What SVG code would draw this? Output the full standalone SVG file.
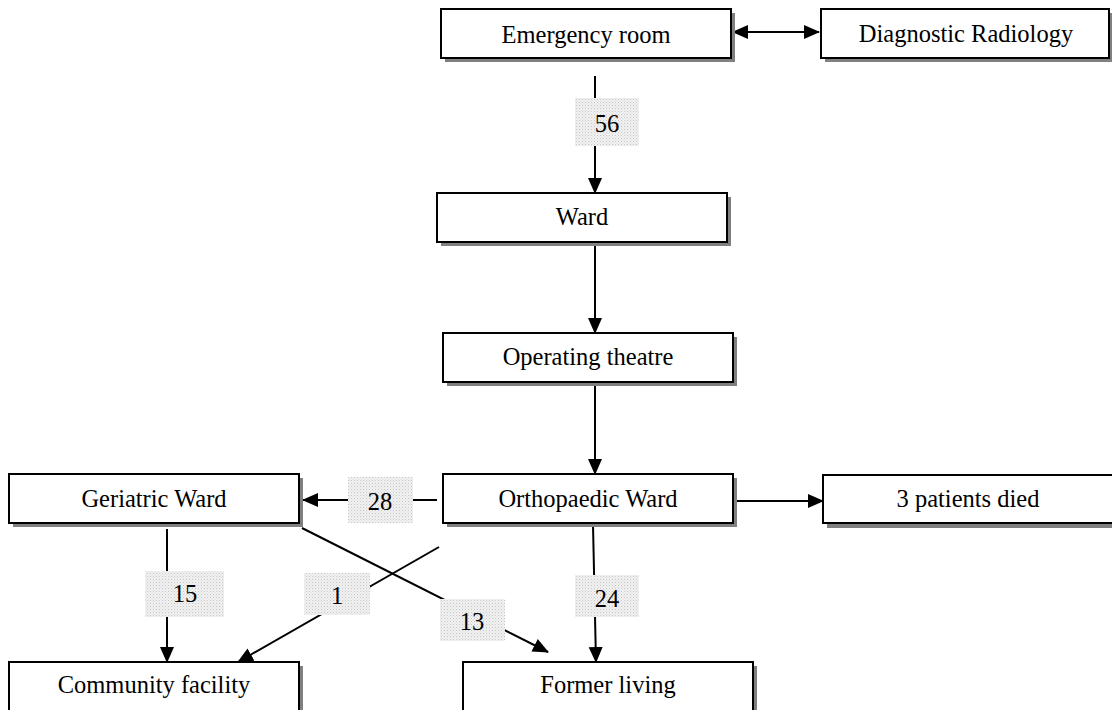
<svg xmlns="http://www.w3.org/2000/svg" width="1112" height="710" viewBox="0 0 1112 710">
<defs>
<style>
.box{fill:#fff;stroke:#000;stroke-width:2}
.sh{fill:#808080}
.t{font-family:"Liberation Serif","Times New Roman",serif;font-size:24.5px;fill:#000;text-anchor:middle}
.ln{stroke:#000;stroke-width:2;fill:none}
.lab{fill:url(#dots)}
</style>
<pattern id="dots" width="3" height="3" patternUnits="userSpaceOnUse">
<rect width="3" height="3" fill="#f2f2f2"/>
<rect width="1" height="1" fill="#c4c4c4"/>
<rect x="1.5" y="1.5" width="1" height="1" fill="#d4d4d4"/>
</pattern>
<marker id="ah" markerUnits="userSpaceOnUse" markerWidth="16" markerHeight="16" viewBox="0 0 16 16" refX="15" refY="8" orient="auto">
<path d="M0,1 L16,8 L0,15 Z" fill="#000"/>
</marker>
<marker id="as" markerUnits="userSpaceOnUse" markerWidth="16" markerHeight="16" viewBox="0 0 16 16" refX="1" refY="8" orient="auto">
<path d="M16,1 L0,8 L16,15 Z" fill="#000"/>
</marker>
</defs>
<rect width="1112" height="710" fill="#fff"/>

<g id="connectors">
<line class="ln" x1="595" y1="76" x2="595" y2="193" marker-end="url(#ah)"/>
<line class="ln" x1="733" y1="32" x2="819" y2="32" marker-start="url(#as)" marker-end="url(#ah)"/>
<line class="ln" x1="595" y1="244" x2="595" y2="333" marker-end="url(#ah)"/>
<line class="ln" x1="595" y1="384" x2="595" y2="474" marker-end="url(#ah)"/>
<line class="ln" x1="437" y1="500" x2="303" y2="500" marker-end="url(#ah)"/>
<line class="ln" x1="737" y1="501" x2="823" y2="501" marker-end="url(#ah)"/>
<line class="ln" x1="167" y1="529" x2="167" y2="662" marker-end="url(#ah)"/>
<line class="ln" x1="439" y1="547" x2="238" y2="662" marker-end="url(#ah)"/>
<line class="ln" x1="302" y1="528" x2="548" y2="652" marker-end="url(#ah)"/>
<line class="ln" x1="593" y1="525" x2="596" y2="662" marker-end="url(#ah)"/>
</g>

<g id="labels">
<g id="lab56"><rect class="lab" x="575" y="98" width="64" height="48"/><text class="t" x="607" y="132">56</text></g>
<g id="lab28"><rect class="lab" x="348" y="477" width="65" height="46"/><text class="t" x="380" y="510">28</text></g>
<g id="lab15"><rect class="lab" x="145" y="571" width="79" height="46"/><text class="t" x="185" y="602">15</text></g>
<g id="lab1"><rect class="lab" x="304" y="573" width="66" height="42"/><text class="t" x="337" y="604">1</text></g>
<g id="lab13"><rect class="lab" x="440" y="599" width="65" height="42"/><text class="t" x="472" y="630">13</text></g>
<g id="lab24"><rect class="lab" x="575" y="575" width="64" height="42"/><text class="t" x="607" y="607">24</text></g>
</g>

<g id="emergency">
<rect class="sh" x="445" y="13" width="290" height="49"/>
<rect class="box" x="441" y="9" width="290" height="49"/>
<text class="t" x="586" y="43">Emergency room</text>
</g>
<g id="radiology">
<rect class="sh" x="825" y="13" width="288" height="49"/>
<rect class="box" x="821" y="9" width="288" height="49"/>
<text class="t" x="966" y="42">Diagnostic Radiology</text>
</g>
<g id="ward">
<rect class="sh" x="441" y="197" width="290" height="49"/>
<rect class="box" x="437" y="193" width="290" height="49"/>
<text class="t" x="582" y="225">Ward</text>
</g>
<g id="operating">
<rect class="sh" x="447" y="337" width="290" height="49"/>
<rect class="box" x="443" y="333" width="290" height="49"/>
<text class="t" x="588" y="365">Operating theatre</text>
</g>
<g id="orthopaedic">
<rect class="sh" x="447" y="478" width="290" height="49"/>
<rect class="box" x="443" y="474" width="290" height="49"/>
<text class="t" x="588" y="507">Orthopaedic Ward</text>
</g>
<g id="geriatric">
<rect class="sh" x="13" y="478" width="290" height="49"/>
<rect class="box" x="9" y="474" width="290" height="49"/>
<text class="t" x="154" y="507">Geriatric Ward</text>
</g>
<g id="died">
<rect class="sh" x="827" y="479" width="290" height="49"/>
<rect class="box" x="823" y="475" width="290" height="48"/>
<text class="t" x="968" y="507">3 patients died</text>
</g>
<g id="community">
<rect class="sh" x="13" y="666" width="290" height="60"/>
<rect class="box" x="9" y="662" width="290" height="60"/>
<text class="t" x="154" y="693">Community facility</text>
</g>
<g id="former">
<rect class="sh" x="467" y="666" width="290" height="60"/>
<rect class="box" x="463" y="662" width="290" height="60"/>
<text class="t" x="608" y="693">Former living</text>
</g>
</svg>
